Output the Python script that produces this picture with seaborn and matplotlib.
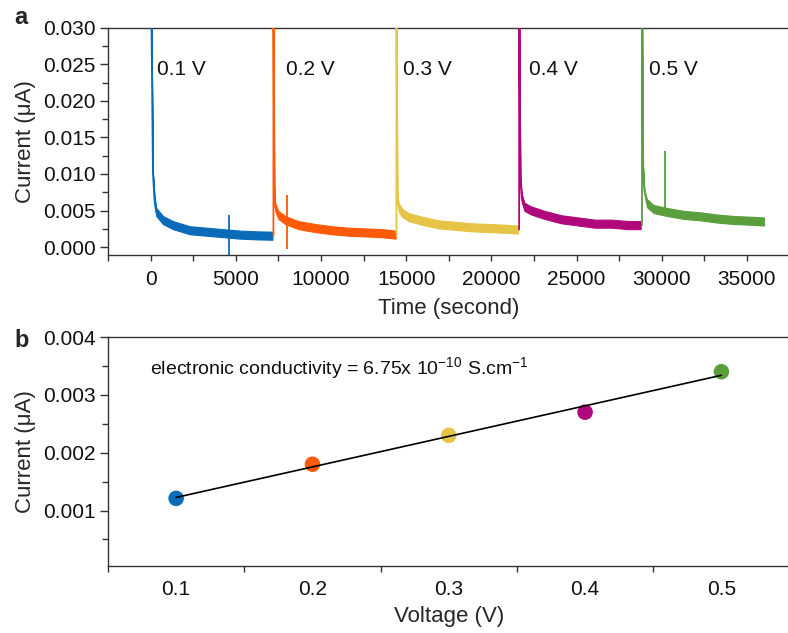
import numpy as np
import pandas as pd
import matplotlib
matplotlib.use("Agg")
import matplotlib.pyplot as plt
from matplotlib.ticker import MultipleLocator, FormatStrFormatter
import seaborn as sns

# ---- chronoamperometry steps (time in s, current in uA) ----
voltages = ["0.1 V", "0.2 V", "0.3 V", "0.4 V", "0.5 V"]
colors = ["#0A6BB8", "#FF5A08", "#E6C445", "#B0087C", "#5A9E3E"]

t_01 = [40, 140, 235, 335, 725, 1315, 2300, 3280, 4260, 5245, 6230, 7150]
i_01 = [0.034, 0.0101, 0.0064, 0.0048, 0.0037, 0.0030, 0.0023, 0.0021, 0.0019, 0.0017, 0.0016, 0.00155]

t_02 = [7210, 7260, 7310, 7500, 7900, 8680, 9665, 10650, 11630, 12610, 13600, 14380]
i_02 = [0.034, 0.0085, 0.0055, 0.0044, 0.0037, 0.0030, 0.0026, 0.0023, 0.0021, 0.0020, 0.0019, 0.0017]

t_03 = [14430, 14480, 14555, 14750, 15145, 15930, 16910, 17900, 18875, 19860, 20840, 21560]
i_03 = [0.034, 0.0075, 0.0055, 0.0047, 0.0041, 0.0036, 0.0031, 0.0029, 0.0027, 0.0026, 0.0025, 0.0024]

t_04 = [21630, 21700, 21785, 21940, 22335, 23120, 24100, 25085, 26065, 27050, 28030, 28760]
i_04 = [0.034, 0.0095, 0.0067, 0.0055, 0.0050, 0.0044, 0.0038, 0.0035, 0.0032, 0.0032, 0.0030, 0.0030]

t_05 = [28840, 28900, 28975, 29130, 29520, 30305, 31290, 32275, 33250, 34235, 35220, 36000]
i_05 = [0.034, 0.011, 0.0078, 0.0060, 0.0052, 0.0048, 0.0044, 0.0042, 0.0039, 0.0037, 0.0036, 0.0035]

# current noise amplitude (half-width of the noisy trace), uA
noise_halfwidth = [0.00055, 0.00055, 0.00055, 0.00055, 0.00055]

# isolated glitches: time, top, bottom, and the step they belong to
glitch_t = [4615, 7995, 30170]
glitch_top = [0.0044, 0.0071, 0.0131]
glitch_bottom = [-0.0011, -0.0002, 0.0048]
glitch_step = [0, 1, 4]

# ---- steady-state current vs applied voltage ----
bias_v = [0.1, 0.2, 0.3, 0.4, 0.5]
steady_i = [0.00121, 0.0018, 0.0023, 0.0027, 0.0034]

times = [t_01, t_02, t_03, t_04, t_05]
currents = [i_01, i_02, i_03, i_04, i_05]

sns.set_theme(style="ticks")
plt.rcParams["font.family"] = ["Liberation Sans", "DejaVu Sans"]
plt.rcParams["mathtext.default"] = "regular"
plt.rcParams["axes.edgecolor"] = "#333333"
plt.rcParams["axes.linewidth"] = 1.0
plt.rcParams["xtick.color"] = "#333333"
plt.rcParams["ytick.color"] = "#333333"
plt.rcParams["xtick.labelcolor"] = "#111111"
plt.rcParams["ytick.labelcolor"] = "#111111"

fig = plt.figure(figsize=(7.88, 6.33), dpi=100)
ax_a = fig.add_axes([0.137, 0.597, 0.865, 0.3592])
ax_b = fig.add_axes([0.137, 0.1058, 0.865, 0.3618])

# ---------- panel a ----------
prev_end = None
for k in range(5):
    t = list(times[k])
    c = list(currents[k])
    if prev_end is not None:
        t = [t[0]] + t
        c = [prev_end] + c
    df = pd.DataFrame({"t": t, "i": c})
    tt = np.array(times[k], dtype=float)
    cc = np.array(currents[k], dtype=float)
    hw = np.where(cc < 0.0075, noise_halfwidth[k], 0.0)
    ax_a.fill_between(tt, cc - hw, cc + hw, color=colors[k], lw=0.8,
                      edgecolor=colors[k], zorder=2)
    sns.lineplot(data=df, x="t", y="i", ax=ax_a, color=colors[k], lw=1.3,
                 estimator=None, sort=False, zorder=3)
    prev_end = currents[k][-1]

for gt, gtop, gbot, gs in zip(glitch_t, glitch_top, glitch_bottom, glitch_step):
    ax_a.vlines(gt, gbot, gtop, color=colors[gs], lw=1.3, zorder=3)

label_x = [400, 7930, 14830, 22200, 29270]
for k in range(5):
    ax_a.text(label_x[k], 0.0243, voltages[k], fontsize=15, va="center",
              ha="left", color="#111111")

ax_a.set_xlim(-2500, 37500)
ax_a.set_ylim(-0.0011, 0.030)
ax_a.xaxis.set_major_locator(MultipleLocator(5000))
ax_a.xaxis.set_minor_locator(MultipleLocator(2500))
ax_a.yaxis.set_major_locator(MultipleLocator(0.005))
ax_a.yaxis.set_minor_locator(MultipleLocator(0.0025))
ax_a.yaxis.set_major_formatter(FormatStrFormatter("%.3f"))
ax_a.set_xlabel("Time (second)", fontsize=16, labelpad=7)
ax_a.set_ylabel("Current (\u03bcA)", fontsize=16, labelpad=5)

# ---------- panel b ----------
dfb = pd.DataFrame({"V": bias_v, "I": steady_i, "step": voltages})
sns.scatterplot(data=dfb, x="V", y="I", hue="step", palette=colors, s=125,
                linewidth=0, legend=False, ax=ax_b, zorder=2)
sns.regplot(data=dfb, x="V", y="I", scatter=False, ci=None, ax=ax_b,
            color="black", line_kws={"lw": 1.2, "zorder": 3})

ax_b.text(0.0805, 0.00347,
          "electronic conductivity = 6.75x 10$^{-10}$ S.cm$^{-1}$",
          fontsize=14, va="center", ha="left", color="#111111")

ax_b.set_xlim(0.05, 0.55)
ax_b.set_ylim(0.00004, 0.004)
ax_b.xaxis.set_major_locator(MultipleLocator(0.1))
ax_b.xaxis.set_minor_locator(MultipleLocator(0.05))
ax_b.yaxis.set_major_locator(MultipleLocator(0.001))
ax_b.yaxis.set_minor_locator(MultipleLocator(0.0005))
ax_b.xaxis.set_major_formatter(FormatStrFormatter("%.1f"))
ax_b.yaxis.set_major_formatter(FormatStrFormatter("%.3f"))
ax_b.set_xlabel("Voltage (V)", fontsize=16, labelpad=5)
ax_b.set_ylabel("Current (\u03bcA)", fontsize=16, labelpad=5)

for ax in (ax_a, ax_b):
    for side in ("top", "right", "left", "bottom"):
        ax.spines[side].set_visible(True)
        ax.spines[side].set_linewidth(1.0)
    ax.tick_params(axis="both", which="major", direction="out", length=6,
                   width=1.0, labelsize=15, pad=3, top=False, right=False)
    ax.tick_params(axis="both", which="minor", direction="out", length=4,
                   width=1.0, top=False, right=False)
ax_a.tick_params(axis="x", which="major", length=4.5, pad=6)
ax_a.tick_params(axis="x", which="minor", length=4.5)
ax_b.tick_params(axis="x", which="major", length=0, pad=10)

fig.text(0.018, 0.972, "a", fontsize=17, fontweight="bold", va="center")
fig.text(0.018, 0.462, "b", fontsize=17, fontweight="bold", va="center")

fig.savefig("out.png", dpi=100)
